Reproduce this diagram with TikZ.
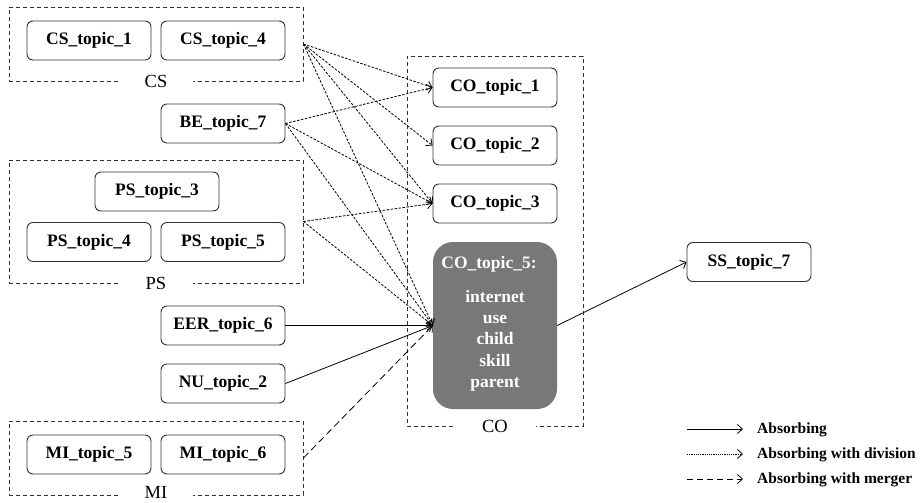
\documentclass[tikz,border=0pt]{standalone}
\usepackage{fontspec}
\setmainfont{Liberation Serif}
\usetikzlibrary{arrows.meta}
\definecolor{boxline}{RGB}{50,50,50}
\definecolor{cofill}{RGB}{120,120,120}
\begin{document}
\begin{tikzpicture}[x=1pt,y=-1pt,
  topic/.style={draw=boxline, line width=0.9pt, rounded corners=6pt, minimum width=124pt, minimum height=39pt, inner sep=0pt, font=\fontsize{17.5}{21}\selectfont\bfseries},
  groupbox/.style={draw=boxline, line width=0.8pt, dash pattern=on 4pt off 3pt, inner sep=0pt},
  grouplabel/.style={fill=white, inner sep=0pt, minimum height=20pt, font=\fontsize{18.5}{20}\selectfont},
  tip/.style={-{Straight Barb[length=5pt,width=9pt]}},
  absorb/.style={tip, line width=0.8pt, black},
  division/.style={tip, line width=0.8pt, black, dash pattern=on 2.5pt off 1.5pt},
  merger/.style={tip, line width=0.8pt, black, dash pattern=on 7pt off 4pt},
  legtext/.style={anchor=west, inner sep=0pt, font=\fontsize{15.5}{18}\selectfont\bfseries}
]
\useasboundingbox (0,0) rectangle (924,503);

% group boxes
\node[groupbox, minimum width=294pt, minimum height=74pt] (CS) at (156,44) {};
\node[groupbox, minimum width=294pt, minimum height=123pt] (PS) at (156,221.5) {};
\node[groupbox, minimum width=294pt, minimum height=74pt] (MI) at (156,458) {};
\node[groupbox, minimum width=176pt, minimum height=370pt] (CO) at (495,241) {};
\node[grouplabel, minimum width=73pt] (CSl) at (CS.south) {CS};
\node[grouplabel, minimum width=73pt] (PSl) at (PS.south) {PS};
\node[grouplabel, minimum width=73pt, minimum height=12pt] (MIl) at ([yshift=3pt]MI.south) {MI};
\node[grouplabel, minimum width=81pt] (COl) at (CO.south) {CO};

% topic nodes
\node[topic] (cs1) at (89,40.5) {CS\_topic\_1};
\node[topic] (cs4) at (223,40.5) {CS\_topic\_4};
\node[topic] (be7) at (223,123.5) {BE\_topic\_7};
\node[topic] (ps3) at (157,191.5) {PS\_topic\_3};
\node[topic] (ps4) at (89,242) {PS\_topic\_4};
\node[topic] (ps5) at (223,242) {PS\_topic\_5};
\node[topic] (eer6) at (223,325.5) {EER\_topic\_6};
\node[topic] (nu2) at (223,383.5) {NU\_topic\_2};
\node[topic] (mi5) at (89,454.5) {MI\_topic\_5};
\node[topic] (mi6) at (223,454.5) {MI\_topic\_6};
\node[topic] (co1) at (495,87.5) {CO\_topic\_1};
\node[topic] (co2) at (495,145.5) {CO\_topic\_2};
\node[topic] (co3) at (495,203.5) {CO\_topic\_3};
\node[topic] (ss7) at (749,262) {SS\_topic\_7};
\node[draw=none, fill=cofill, rounded corners=20pt, minimum width=124pt, minimum height=167pt, inner sep=0pt] (co5) at (495,325.5) {};
\node[text=white, font=\fontsize{17.5}{21}\selectfont\bfseries, anchor=north, inner sep=0pt, align=center] (co5t) at (489,256) {CO\_topic\_5:};
\node[text=white, font=\fontsize{17.5}{21.3}\selectfont\bfseries, anchor=north, inner sep=0pt, align=center] (co5w) at (495,290) {internet\\use\\child\\skill\\parent};

% connectors
\draw[division] (CS.east) -- (co1.west);
\draw[division] (CS.east) -- (co2.west);
\draw[division] (CS.east) -- (co3.west);
\draw[division] (CS.east) -- (co5.west);
\draw[division] (be7.east) -- (co1.west);
\draw[division] (be7.east) -- (co3.west);
\draw[division] (be7.east) -- (co5.west);
\draw[division] (PS.east) -- (co3.west);
\draw[division] (PS.east) -- (co5.west);
\draw[absorb] (eer6.east) -- (co5.west);
\draw[absorb] (nu2.east) -- (co5.west);
\draw[merger] (MI.east) -- (co5.west);
\draw[absorb] (co5.east) -- (ss7.west);

% legend
\coordinate (la1) at (687,429);
\coordinate (lb1) at (743,429);
\coordinate (la2) at (687,454);
\coordinate (lb2) at (743,454);
\coordinate (la3) at (687,479);
\coordinate (lb3) at (743,479);
\draw[absorb] (la1) -- (lb1);
\draw[tip, line width=0.8pt, dash pattern=on 1.2pt off 1pt] (la2) -- (lb2);
\draw[tip, line width=0.8pt, dash pattern=on 6pt off 4pt] (la3) -- (lb3);
\node[legtext] (lt1) at (757,430) {Absorbing};
\node[legtext] (lt2) at (757,455) {Absorbing with division};
\node[legtext] (lt3) at (757,480) {Absorbing with merger};
\end{tikzpicture}
\end{document}
